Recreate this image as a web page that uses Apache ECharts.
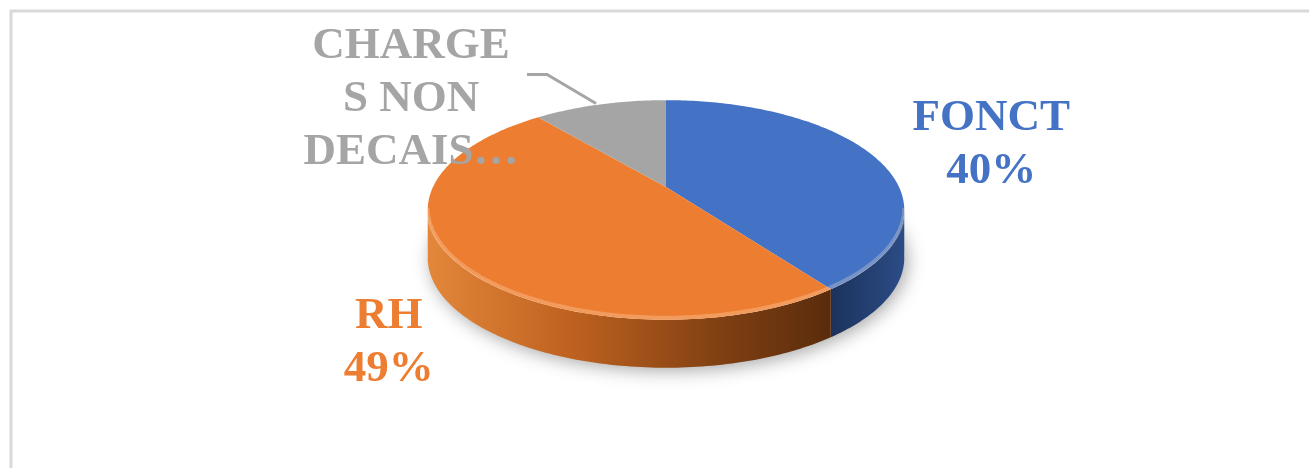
<!DOCTYPE html>
<html>
<head>
<meta charset="utf-8">
<script src="https://cdn.jsdelivr.net/npm/echarts@6/dist/echarts.min.js"></script>
<style>
  html, body { margin: 0; padding: 0; background: #fff; }
  #chart { width: 1309px; height: 468px; }
</style>
</head>
<body>
<div id="chart"></div>
<script>
// data
const categories = ['FONCT', 'RH', 'CHARGE\nS NON\nDECAIS…'];
const values = [40, 49, 11];
const truncated = [false, false, true]; // excel cut the last label, no % shown

// look
const topColors = ['#4472C4', '#ED7D31', '#A5A5A5'];
const sideStops = [
  [[0, '#1C325C'], [1, '#2B4C86']],
  [[0, '#E3873A'], [0.35, '#BF6220'], [0.75, '#7C3E12'], [1, '#5A2C0C']],
  [[0, '#8A8A8A'], [1, '#6A6A6A']]
];
const labelColors = ['#4472C4', '#ED7D31', '#A5A5A5'];
const labelNudge = [[117, -12], [-66, 82], [-189, -5]];

// fake 3d pie geometry (simple perspective, near half looks bigger)
const CX = 666, CY = 187, RX = 233, RY = 105, DEPTH = 48, K = 0.209;

const total = values.reduce((s, v) => s + v, 0);
const starts = [];
values.reduce((acc, v, i) => { starts[i] = acc; return acc + v / total * 360; }, 0);

function pt(t, dy) {
  const r = t * Math.PI / 180;
  const u = Math.sin(r), v = -Math.cos(r);
  const s = 1 / (1 - K * v);
  return [CX + RX * u * s, CY + RY * v * s + (dy || 0)];
}
function arc(a, b, dy) {
  const pts = [];
  const n = Math.max(2, Math.ceil(Math.abs(b - a)));
  for (let k = 0; k <= n; k++) pts.push(pt(a + (b - a) * k / n, dy));
  return pts;
}
// silhouette tangent angles of the disc
const T0 = Math.acos(-K) * 180 / Math.PI;
const T1 = 360 - T0;

const myChart = echarts.init(document.getElementById('chart'));

myChart.setOption({
  animation: false,
  graphic: [
    {
      type: 'rect',
      shape: { x: 11, y: 11, width: 1302, height: 470 },
      style: { fill: 'none', stroke: '#D9D9D9', lineWidth: 3 },
      silent: true
    },
    {
      // soft drop shadow under the disc
      type: 'polygon',
      shape: { points: arc(0, 360, DEPTH - 3) },
      style: { fill: '#fff', shadowBlur: 18, shadowColor: 'rgba(0,0,0,0.35)', shadowOffsetY: 6, shadowOffsetX: 3 },
      silent: true
    }
  ],
  series: [
    {
      type: 'custom',
      coordinateSystem: 'none',
      data: values.map((v, i) => ({ name: categories[i], value: v })),
      renderItem: function (params, api) {
        const i = params.dataIndex;
        const a = starts[i];
        const b = a + api.value(0) / total * 360;
        const children = [];

        // visible front wall
        const sa = Math.max(a, T0), sb = Math.min(b, T1);
        if (sb > sa) {
          const p0 = pt(sa), p1 = pt(sb);
          children.push({
            type: 'polygon',
            z2: 1,
            shape: { points: arc(sa, sb, 0).concat(arc(sb, sa, DEPTH)) },
            style: {
              fill: new echarts.graphic.LinearGradient(
                Math.min(p0[0], p1[0]), 0, Math.max(p0[0], p1[0]), 0,
                sideStops[i].map(s => ({ offset: s[0], color: s[1] })),
                true
              )
            }
          });
          // bevel highlight on the rim
          children.push({
            type: 'polyline',
            z2: 3,
            shape: { points: arc(sa, sb, -2) },
            style: { fill: 'none', stroke: 'rgba(255,235,210,0.28)', lineWidth: 4 }
          });
        }

        // top face
        children.push({
          type: 'polygon',
          z2: 2,
          shape: { points: [[CX, CY]].concat(arc(a, b, 0)) },
          style: { fill: topColors[i] }
        });

        // label
        const mid = (a + b) / 2;
        const m = pt(mid);
        const lx = m[0] + labelNudge[i][0];
        const ly = m[1] + labelNudge[i][1];
        const pct = Math.round(api.value(0) / total * 100) + '%';
        children.push({
          type: 'text',
          z2: 20,
          style: {
            text: truncated[i] ? categories[i] : categories[i] + '\n' + pct,
            x: lx, y: ly,
            fill: labelColors[i],
            font: 'bold 45px "Liberation Serif", "Times New Roman", serif',
            lineHeight: 53,
            align: 'center',
            verticalAlign: 'middle'
          }
        });
        if (truncated[i]) {
          children.push({
            type: 'polyline',
            z2: 19,
            shape: { points: [[lx + 116, ly - 25], [lx + 136, ly - 25], [m[0] - 4, m[1] - 1]] },
            style: { fill: 'none', stroke: '#A5A5A5', lineWidth: 3 }
          });
        }

        return { type: 'group', children: children };
      }
    }
  ]
});
</script>
</body>
</html>
